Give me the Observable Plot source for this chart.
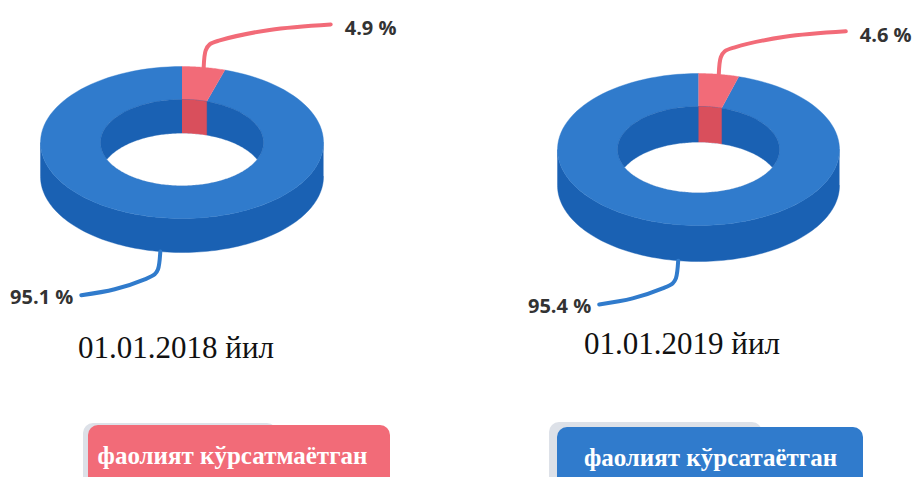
<!DOCTYPE html>
<html>
<head>
<meta charset="utf-8">
<script src="https://cdn.jsdelivr.net/npm/d3@7"></script>
<script src="https://cdn.jsdelivr.net/npm/@observablehq/plot@0.6"></script>
<style>
  html, body { margin: 0; padding: 0; background: #fff; }
  svg { display: block; }
</style>
</head>
<body>
<div id="chart"></div>
<script>
// ---- data ----
const years = ["01.01.2018 йил", "01.01.2019 йил"];
const inactive = [4.9, 4.6];   // фаолият кўрсатмаётган
const active = [95.1, 95.4];   // фаолият кўрсатаётган
const categories = ["фаолият кўрсатмаётган", "фаолият кўрсатаётган"];

// ---- style / layout ----
const W = 913, H = 477;
const RED = "#f26b78", RED_DARK = "#d94f5c";
const BLUE = "#307bcc", BLUE_DARK = "#1a61b3";
const layout = [
  {cx: 181.5, cy: 142, rx: 141.5, ry: 76, irx: 81.5, iry: 43, depth: 34, labelX: 175.5, labelY: 348},
  {cx: 698, cy: 149, rx: 141, ry: 76, irx: 81, iry: 43, depth: 36, labelX: 681.5, labelY: 343.5}
];
const legendBoxes = [
  {x1: 88, x2: 390, y1: 425, sx1: 83, sx2: 277, sy1: 423, tx: 232, ty: 455},
  {x1: 557, x2: 863, y1: 427, sx1: 549, sx2: 762, sy1: 422, tx: 710, ty: 457}
];
const legendColors = [RED, BLUE];

// ---- geometry helpers ----
function pt(cx, cy, rx, ry, phi) {
  return {x: cx + rx * Math.sin(phi), y: cy - ry * Math.cos(phi)};
}
function arc(cx, cy, rx, ry, a0, a1, n = 120) {
  const out = [];
  for (let k = 0; k <= n; k++) out.push(pt(cx, cy, rx, ry, a0 + (a1 - a0) * k / n));
  return out;
}

const marks = [];
function poly(points, fill) {
  marks.push(Plot.line(points, {x: "x", y: "y", fill, stroke: fill, strokeWidth: 0.4, curve: "linear"}));
}

years.forEach((yr, i) => {
  const L = layout[i];
  const total = inactive[i] + active[i];
  const aRed = 2 * Math.PI * inactive[i] / total;
  const {cx, cy, rx, ry, irx, iry, depth} = L;

  // outer side wall (front half)
  poly([...arc(cx, cy, rx, ry, Math.PI / 2, 3 * Math.PI / 2),
        ...arc(cx, cy + depth, rx, ry, 3 * Math.PI / 2, Math.PI / 2)], BLUE_DARK);
  // top face: active slice
  poly([...arc(cx, cy, rx, ry, aRed, 2 * Math.PI),
        ...arc(cx, cy, irx, iry, 2 * Math.PI, aRed)], BLUE);
  // top face: inactive slice
  poly([...arc(cx, cy, rx, ry, 0, aRed, 30),
        ...arc(cx, cy, irx, iry, aRed, 0, 30)], RED);
  // hole: inner wall
  poly(arc(cx, cy, irx, iry, 0, 2 * Math.PI), BLUE_DARK);
  // inner wall under inactive slice
  poly([...arc(cx, cy, irx, iry, 0, aRed, 30),
        ...arc(cx, cy + depth, irx, iry, aRed, 0, 30)], RED_DARK);
  // see-through opening
  const p0 = Math.acos(Math.min(1, depth / (2 * iry)));
  marks.push(Plot.line([...arc(cx, cy + depth, irx, iry, -p0, p0),
                        ...arc(cx, cy, irx, iry, Math.PI - p0, Math.PI + p0)],
    {x: "x", y: "y", fill: "white", stroke: "white", strokeWidth: 0.3}));

  // leader for inactive share (from mid-angle of slice, top edge)
  const s1 = pt(cx, cy, rx, ry, aRed / 2);
  const rel1 = [[0, 0], [2, -17], [6, -23], [16, -27], [66, -37.5], [127, -43]];
  const lead1 = rel1.map(([dx, dy]) => ({x: s1.x + dx, y: s1.y + dy}));
  marks.push(Plot.line(lead1, {x: "x", y: "y", stroke: RED, strokeWidth: 4, curve: "catmull-rom"}));
  const e1 = lead1[lead1.length - 1];
  marks.push(Plot.text([inactive[i]], {x: () => e1.x + 14, y: () => e1.y + 4,
    text: d => d.toFixed(1) + " %", textAnchor: "start", lineAnchor: "middle",
    fontFamily: "Open Sans", fontWeight: "bold", fontSize: 20, fill: "#333"}));

  // leader for active share (from mid-angle, bottom of side wall)
  const aMid = aRed + (2 * Math.PI - aRed) / 2;
  const s0 = pt(cx, cy, rx, ry, aMid);
  const s2 = {x: s0.x, y: s0.y + depth};
  const rel2 = [[0, 0], [-2.3, 17.7], [-5.6, 22.7], [-15.6, 27.7], [-45.6, 37.7], [-79, 43.7]];
  const lead2 = rel2.map(([dx, dy]) => ({x: s2.x + dx, y: s2.y + dy}));
  marks.push(Plot.line(lead2, {x: "x", y: "y", stroke: BLUE, strokeWidth: 4, curve: "catmull-rom"}));
  const e2 = lead2[lead2.length - 1];
  marks.push(Plot.text([active[i]], {x: () => e2.x - 8, y: () => e2.y + 2,
    text: d => d.toFixed(1) + " %", textAnchor: "end", lineAnchor: "middle",
    fontFamily: "Open Sans", fontWeight: "bold", fontSize: 20, fill: "#333"}));

  // year label
  marks.push(Plot.text([yr], {x: () => L.labelX, y: () => L.labelY, text: d => d,
    lineAnchor: "middle", fontFamily: "Liberation Serif", fontSize: 31, fill: "#111"}));
});

// legend boxes
categories.forEach((c, i) => {
  const B = legendBoxes[i];
  marks.push(Plot.rect([c], {x1: () => B.sx1, x2: () => B.sx2, y1: () => B.sy1, y2: () => H + 20,
    fill: "#dde1e8", rx: 10}));
  marks.push(Plot.rect([c], {x1: () => B.x1, x2: () => B.x2, y1: () => B.y1, y2: () => H + 20,
    fill: legendColors[i], rx: 10}));
  marks.push(Plot.text([c], {x: () => B.tx, y: () => B.ty, text: d => d, lineAnchor: "middle",
    fontFamily: "Liberation Serif", fontWeight: "bold", fontSize: 25, fill: "white"}));
});

const chart = Plot.plot({
  width: W, height: H, margin: 0,
  x: {domain: [0, W], range: [0, W], axis: null},
  y: {domain: [0, H], range: [0, H], axis: null},
  style: {background: "white", overflow: "hidden"},
  marks
});
document.getElementById("chart").appendChild(chart);
</script>
</body>
</html>
